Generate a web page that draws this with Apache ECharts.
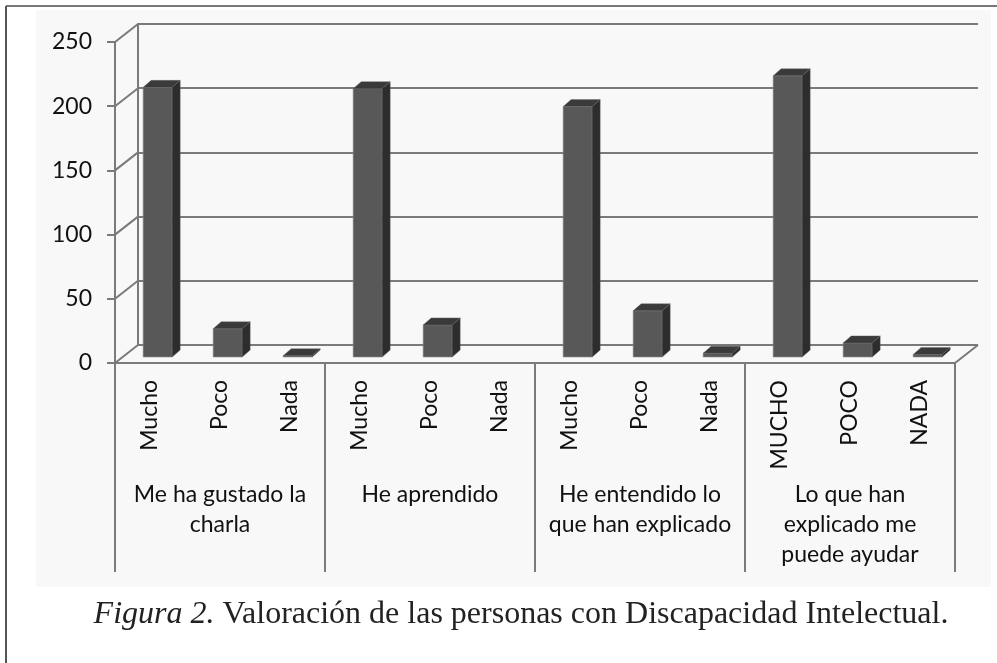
<!DOCTYPE html>
<html>
<head>
<meta charset="utf-8">
<title>Figura 2</title>
<script src="https://cdn.jsdelivr.net/npm/echarts@6/dist/echarts.min.js"></script>
<style>
  html, body { margin: 0; padding: 0; background: #fff; }
  #chart { width: 997px; height: 663px; }
</style>
</head>
<body>
<div id="chart"></div>
<script>
// answers per question (Mucho / Poco / Nada)
const subLabels = ['Mucho', 'Poco', 'Nada', 'Mucho', 'Poco', 'Nada', 'Mucho', 'Poco', 'Nada', 'MUCHO', 'POCO', 'NADA']
const groupLabels = ['Me ha gustado la\ncharla', 'He aprendido', 'He entendido lo\nque han explicado', 'Lo que han\nexplicado me\npuede ayudar']
const counts = [210, 22, 1, 209, 25, 0, 195, 36, 3, 219, 11, 2]
const yTicks = [0, 50, 100, 150, 200, 250]

const lineGray = '#7a7a7a'
const labelFont = 'Lato, "Open Sans", sans-serif'
// 3d depth of the plot box
const depthX = 23
const depthY = 18

const chart = echarts.init(document.getElementById('chart'))

function barItem(params, api) {
  const v = api.value(1)
  if (!(v > 0)) return null
  const top = api.coord([api.value(0), v])
  const base = api.coord([api.value(0), 0])
  // bars stand a third of the way into the box
  const cx = top[0] + depthX / 3
  const yT = top[1] - depthY / 3
  const yB = base[1] - depthY / 3
  const hw = 14.5, dx = 8, dy = 7
  return {
    type: 'group',
    children: [
      { type: 'rect', shape: { x: cx - hw, y: yT, width: hw * 2, height: yB - yT },
        style: { fill: '#585858', stroke: '#8c8c8c', lineWidth: 0.6 } },
      { type: 'polygon', shape: { points: [[cx + hw, yT], [cx + hw + dx, yT - dy], [cx + hw + dx, yB - dy], [cx + hw, yB]] },
        style: { fill: '#2d2d2d', stroke: '#555', lineWidth: 0.4 } },
      { type: 'polygon', shape: { points: [[cx - hw, yT], [cx - hw + dx, yT - dy], [cx + hw + dx, yT - dy], [cx + hw, yT]] },
        style: { fill: '#3a3a3a', stroke: '#666', lineWidth: 0.4 } }
    ]
  }
}

// side wall / floor diagonals, one per tick value
function wallItem(params, api) {
  const v = api.value(1)
  const p = api.coord([0, v])
  const x0 = params.coordSys.x
  const style = { stroke: lineGray, lineWidth: 2 }
  const children = [
    { type: 'line', shape: { x1: x0, y1: p[1], x2: x0 + depthX, y2: p[1] - depthY }, style: style }
  ]
  if (v === 0) {
    const x1 = params.coordSys.x + params.coordSys.width
    children.push({ type: 'line', shape: { x1: x1, y1: p[1], x2: x1 + depthX, y2: p[1] - depthY }, style: style })
  }
  return { type: 'group', children: children }
}

chart.setOption({
  animation: false,
  graphic: [
    { type: 'rect', z: -10, shape: { x: 36, y: 10, width: 955, height: 577 }, style: { fill: '#f8f8f8' } },
    { type: 'line', shape: { x1: 6, y1: 6, x2: 997, y2: 6 }, style: { stroke: '#777', lineWidth: 2 } },
    { type: 'line', shape: { x1: 6, y1: 6, x2: 6, y2: 663 }, style: { stroke: '#555', lineWidth: 2 } },
    {
      type: 'text', x: 521, y: 615,
      style: {
        text: '{i|Figura 2.} Valoración de las personas con Discapacidad Intelectual.',
        font: '32px "Liberation Serif", serif',
        fill: '#222',
        align: 'center',
        verticalAlign: 'middle',
        rich: {
          i: { fontStyle: 'italic', fontSize: 32, fontFamily: '"Liberation Serif", serif', fill: '#222' }
        }
      }
    }
  ],
  grid: [
    { left: 115, top: 42, width: 840, height: 321 },
    { left: 115 + depthX, top: 42 - depthY, width: 840, height: 321 }
  ],
  xAxis: [
    {
      gridIndex: 0, type: 'category', data: subLabels, position: 'bottom',
      axisLine: { lineStyle: { color: lineGray, width: 2 } },
      axisTick: { show: false },
      axisLabel: { rotate: 90, margin: 17, interval: 0, fontSize: 23, fontFamily: labelFont, color: '#111' }
    },
    {
      gridIndex: 0, type: 'category', data: groupLabels, position: 'bottom',
      axisLine: { show: false },
      axisTick: { show: true, length: 209, interval: 0, lineStyle: { color: lineGray, width: 2 } },
      axisLabel: { margin: 117, interval: 0, fontSize: 23, lineHeight: 30, fontFamily: labelFont, color: '#111' }
    },
    { gridIndex: 1, type: 'category', data: subLabels, show: false }
  ],
  yAxis: [
    {
      gridIndex: 0, type: 'value', min: 0, max: 250, interval: 50,
      axisLine: { show: true, lineStyle: { color: lineGray, width: 2 } },
      axisTick: { show: true, length: 8, lineStyle: { color: lineGray, width: 2 } },
      axisLabel: { margin: 23, fontSize: 23, fontFamily: labelFont, color: '#111' },
      splitLine: { show: false }
    },
    {
      gridIndex: 1, type: 'value', min: 0, max: 250, interval: 50,
      axisLine: { show: true, lineStyle: { color: lineGray, width: 2 } },
      axisTick: { show: false },
      axisLabel: { show: false },
      splitLine: { show: true, lineStyle: { color: lineGray, width: 2 } }
    }
  ],
  series: [
    {
      type: 'custom', name: 'walls', xAxisIndex: 0, yAxisIndex: 0, z: 1, silent: true,
      data: yTicks.map(function (v) { return [0, v] }),
      renderItem: wallItem
    },
    {
      type: 'custom', name: 'Respuestas', xAxisIndex: 0, yAxisIndex: 0, z: 5,
      data: counts.map(function (v, i) { return [i, v] }),
      encode: { x: 0, y: 1 },
      renderItem: barItem
    }
  ]
})
</script>
</body>
</html>
